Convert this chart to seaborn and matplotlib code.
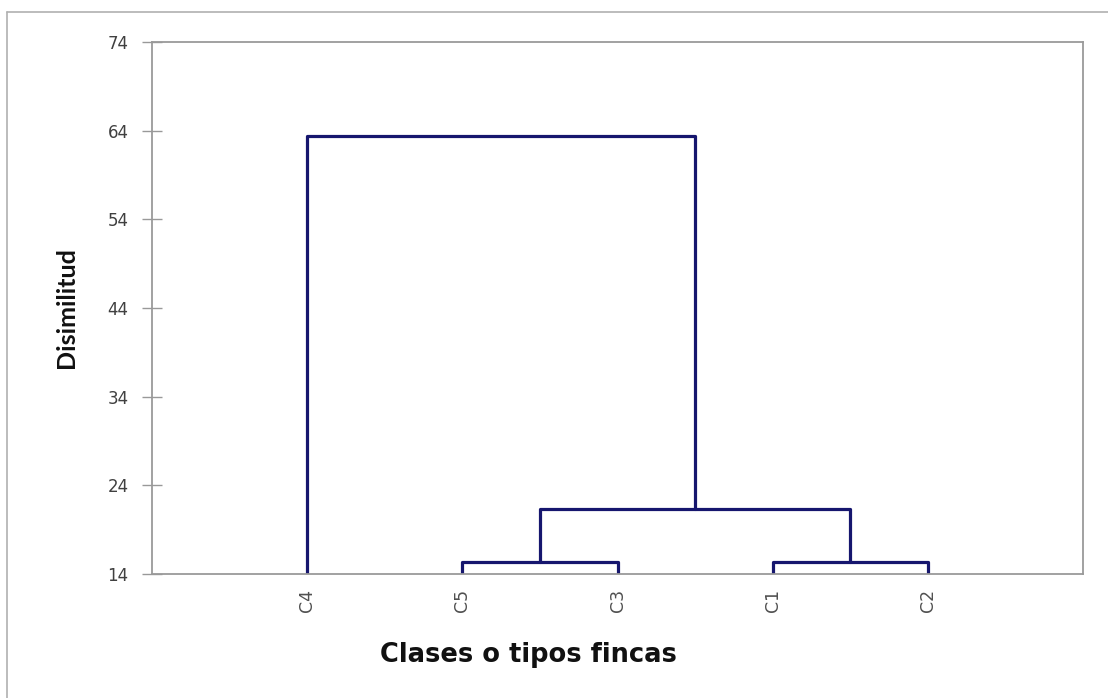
import matplotlib
matplotlib.use("Agg")
import matplotlib.pyplot as plt
import seaborn as sns
import pandas as pd
from matplotlib.lines import Line2D

# leaves in dendrogram order and the merges (left, right, height)
leaves = ["C4", "C5", "C3", "C1", "C2"]
merge_left = ["C5", "C1", "C5+C3", "C4"]
merge_right = ["C3", "C2", "C1+C2", "C5+C3+C1+C2"]
merge_height = [15.4, 15.4, 21.3, 63.4]

y_min, y_max = 14, 74
y_ticks = [14, 24, 34, 44, 54, 64, 74]

# build the U-shaped segments of every link
pos = {name: i + 1 for i, name in enumerate(leaves)}
top = {name: y_min for name in leaves}
rows = []
for k, (a, b, h) in enumerate(zip(merge_left, merge_right, merge_height)):
    xa, xb = pos[a], pos[b]
    for order, (x, y) in enumerate([(xa, top[a]), (xa, h), (xb, h), (xb, top[b])]):
        rows.append({"link": k, "order": order, "x": x, "y": y})
    new = a + "+" + b
    pos[new] = (xa + xb) / 2
    top[new] = h
segs = pd.DataFrame(rows)

sns.set_style("white")
fig = plt.figure(figsize=(11.08, 6.98), dpi=100)
ax = fig.add_axes([152 / 1108, 1 - 574 / 698, 931 / 1108, 532 / 698])

sns.lineplot(data=segs, x="x", y="y", units="link", estimator=None, sort=False,
             color="#16166e", linewidth=2.3, ax=ax)

ax.set_xlim(0, len(leaves) + 1)
ax.set_ylim(y_min, y_max)
ax.set_yticks(y_ticks)
ax.set_yticklabels([str(t) for t in y_ticks], fontsize=12, color="#404040",
                   family="DejaVu Sans")
ax.set_xticks(range(1, len(leaves) + 1))
ax.set_xticklabels(leaves, rotation=90, fontsize=12.5, color="#505050",
                   family="DejaVu Sans")
ax.tick_params(axis="y", left=True, direction="inout", length=14, width=1,
               color="#999999", pad=10)
ax.tick_params(axis="x", bottom=False, length=0, pad=11)
for s in ax.spines.values():
    s.set_color("#9a9a9a")
    s.set_linewidth(1.3)
ax.set_xlabel("")
ax.set_ylabel("")

fig.text(66 / 1108, 1 - 308 / 698, "Disimilitud", rotation=90, ha="center", va="center",
         fontsize=18, fontweight="bold", family=["Lato", "DejaVu Sans"], color="#111111")
fig.text(528 / 1108, 1 - 655 / 698, "Clases o tipos fincas", ha="center", va="center",
         fontsize=18.5, fontweight="bold", family="DejaVu Sans", color="#111111")

# outer frame of the pasted chart
fig.add_artist(Line2D([7 / 1108, 1], [1 - 12 / 698] * 2, color="#b0b0b0", linewidth=1.2,
                      transform=fig.transFigure))
fig.add_artist(Line2D([7 / 1108] * 2, [0, 1 - 12 / 698], color="#b0b0b0", linewidth=1.2,
                      transform=fig.transFigure))

fig.savefig("out.png", dpi=100)
